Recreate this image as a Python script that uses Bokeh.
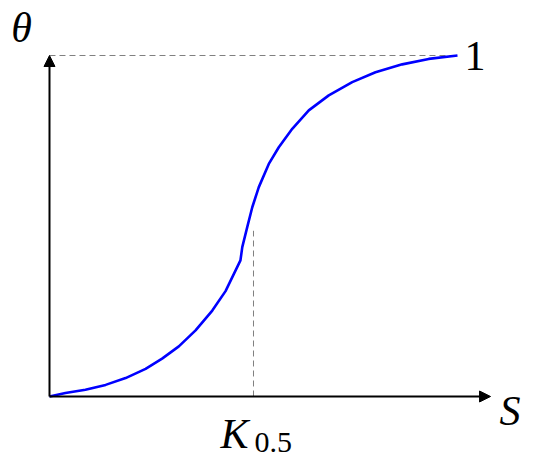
from bokeh.plotting import figure
from bokeh.models import Range1d, Arrow, NormalHead
from bokeh.core.properties import value
from bokeh.embed import file_html
from bokeh.resources import INLINE

# Curve data (S in units of K0.5, theta = fraction saturated)
s_low = [0.0, 0.078, 0.176, 0.275, 0.373, 0.471, 0.552, 0.634, 0.716, 0.798, 0.863, 0.936]
theta_low = [0.0, 0.010, 0.020, 0.034, 0.054, 0.081, 0.111, 0.147, 0.194, 0.252, 0.309, 0.399]
s_high = [0.936, 0.945, 0.969, 0.994, 1.026, 1.075, 1.124, 1.190, 1.271, 1.369, 1.484,
          1.598, 1.729, 1.859, 2.0]
theta_high = [0.399, 0.438, 0.496, 0.555, 0.614, 0.682, 0.731, 0.785, 0.839, 0.883, 0.922,
              0.951, 0.974, 0.990, 1.0]

k_half = 1.0
theta_max = 1.0
s_axis_end = 2.162
theta_axis_end = 1.0
k_dash_top = 0.486

W, H = 536, 459
p = figure(width=W, height=H, output_backend="svg", toolbar_location=None,
           x_range=Range1d(-0.2402, 2.3873), y_range=Range1d(-0.1848, 1.1613),
           min_border=0, outline_line_color=None)
p.axis.visible = False
p.grid.visible = False
p.background_fill_color = "white"
p.border_fill_color = "white"

# dashed helper lines
p.line([0, s_high[-1]], [theta_max, theta_max], line_color="#808080", line_width=1, line_dash="6 4")
p.line([k_half, k_half], [0, k_dash_top], line_color="#808080", line_width=1, line_dash="6 4")

# axes with arrows
p.add_layout(Arrow(end=NormalHead(size=11, fill_color="black", line_color="black"),
                   x_start=0, y_start=0, x_end=s_axis_end, y_end=0,
                   line_color="black", line_width=2))
p.add_layout(Arrow(end=NormalHead(size=11, fill_color="black", line_color="black"),
                   x_start=0, y_start=0, x_end=0, y_end=theta_axis_end,
                   line_color="black", line_width=2))

# curve
p.line(s_low + s_high[1:], theta_low + theta_high[1:], line_color="#0000ff",
       line_width=2.6, line_join="round")

font = value("Liberation Serif")
p.text(x=[-0.137], y=[1.082], text=["θ"], text_font=font, text_font_style="italic",
       text_font_size="42px", text_align="center", text_baseline="alphabetic", text_color="black")
p.text(x=[2.034], y=[1.0], text=["1"], text_font=font, text_font_style="normal",
       text_font_size="42px", text_align="left", text_baseline="alphabetic", text_color="black")
p.text(x=[2.206], y=[-0.044], text=["S"], text_font=font, text_font_style="italic",
       text_font_size="42px", text_align="left", text_baseline="alphabetic", text_color="black")
p.text(x=[0.838], y=[-0.109], text=["K"], text_font=font, text_font_style="italic",
       text_font_size="42px", text_align="left", text_baseline="alphabetic", text_color="black")
p.text(x=[1.005], y=[-0.136], text=["0.5"], text_font=font, text_font_style="normal",
       text_font_size="30px", text_align="left", text_baseline="alphabetic", text_color="black")

open("out.html", "w").write(file_html(p, INLINE))
